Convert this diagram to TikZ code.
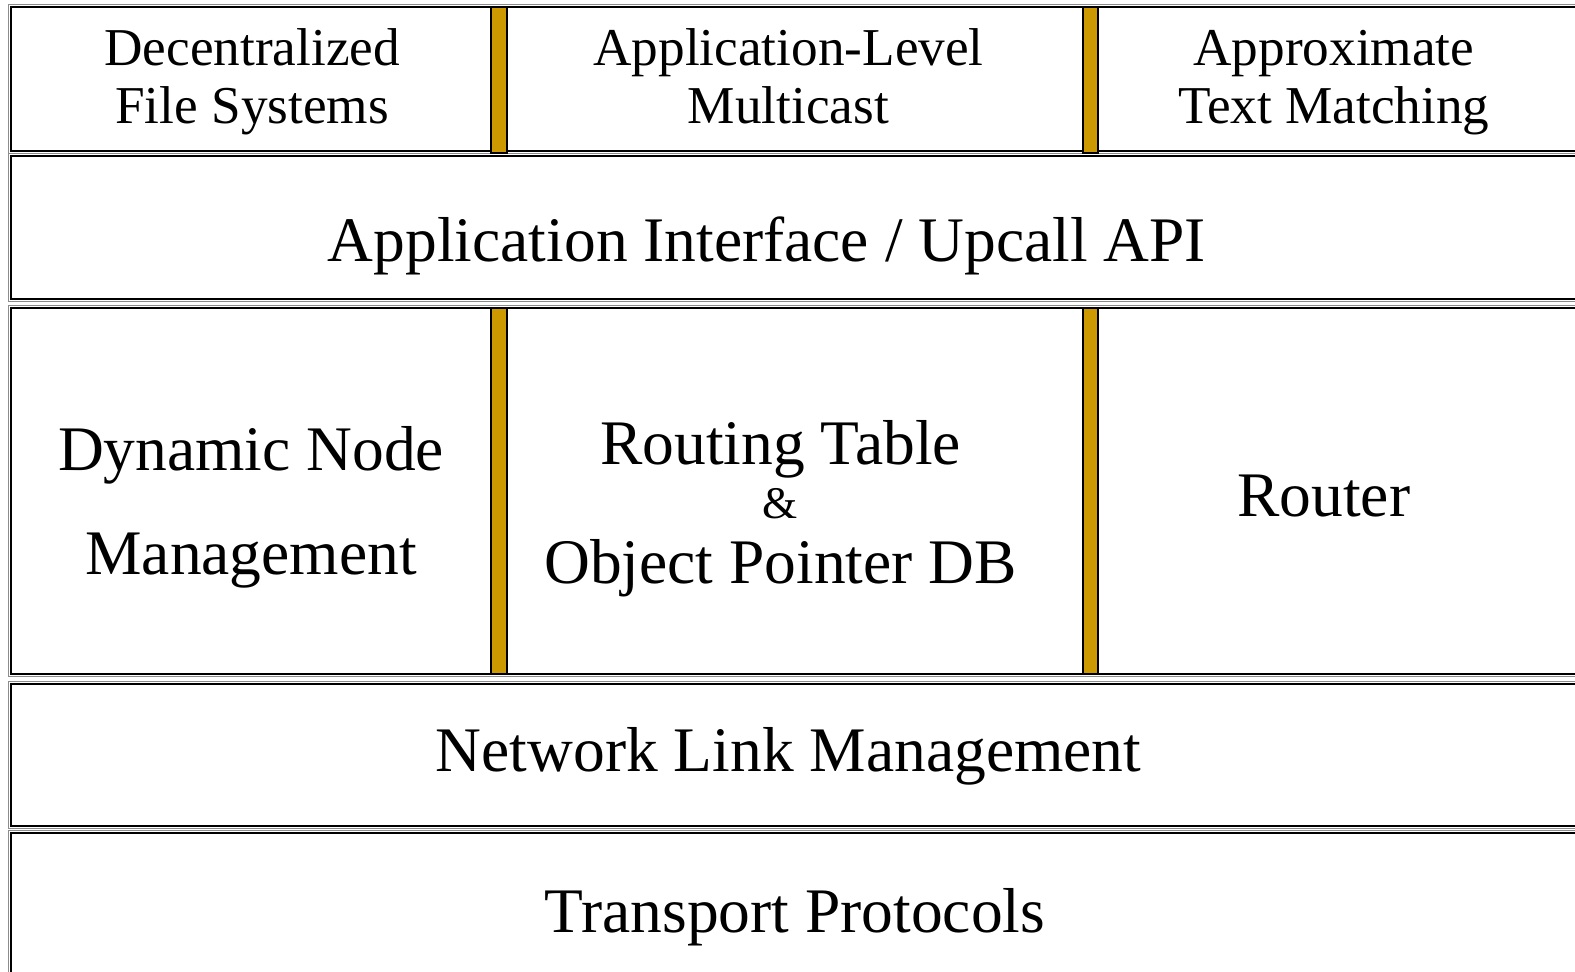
\documentclass[tikz,border=0pt]{standalone}
\usepackage{fontspec}
\setmainfont{Liberation Serif}
\usetikzlibrary{positioning}
\definecolor{bargold}{RGB}{204,153,0}
\definecolor{edgegray}{RGB}{140,140,140}

\begin{document}
\begin{tikzpicture}[x=0.5pt, y=-0.5pt,
  layer/.style={draw=black, line width=1.1pt},
  layershade/.style={draw=edgegray, line width=0.6pt},
  divider/.style={draw=black, fill=bargold, line width=0.9pt},
  small/.style={font=\fontsize{26.5}{29}\selectfont, align=center, anchor=base, inner sep=0pt},
  big/.style={font=\fontsize{31.6}{52}\selectfont, align=center, anchor=base, inner sep=0pt},
  amp/.style={font=\fontsize{22.5}{24}\selectfont, anchor=base, inner sep=0pt}]
  \clip (0,0) rectangle (1568,967);

  % the five layers
  \foreach \top/\bot in {7/150, 155/298, 307/671, 681/822, 829/1020} {
    \draw[layershade] (8.5,\top-2.5) rectangle (1620,\bot+2.5);
    \draw[layer] (11,\top) rectangle (1620,\bot);
  }

  % gold dividers
  \foreach \x in {489,1078} {
    \draw[divider] (\x,7) rectangle (\x+15.5,152);
    \draw[divider] (\x,307) rectangle (\x+15.5,671);
  }

  % applications (base = last line)
  \node[small] (dfs) at (251,123) {Decentralized\\File Systems};
  \node[small] (alm) at (785,123) {Application-Level\\Multicast};
  \node[small] (atm) at (1328,123) {Approximate\\Text Matching};

  % upcall interface
  \node[big] (api) at (763.5,260) {Application Interface / Upcall API};

  % core
  \node[big] (dnm) at (250,572) {Dynamic Node\\Management};
  \node[big] (rtab) at (777,462) {Routing Table};
  \node[amp] (and) at (777,516) {\&};
  \node[big] (opdb) at (777,581) {Object Pointer DB};
  \node[big] (router) at (1318,514) {Router};

  % lower layers
  \node[big] (nlm) at (785,768) {Network Link Management};
  \node[big] (tp) at (791.5,928) {Transport Protocols};
\end{tikzpicture}
\end{document}
